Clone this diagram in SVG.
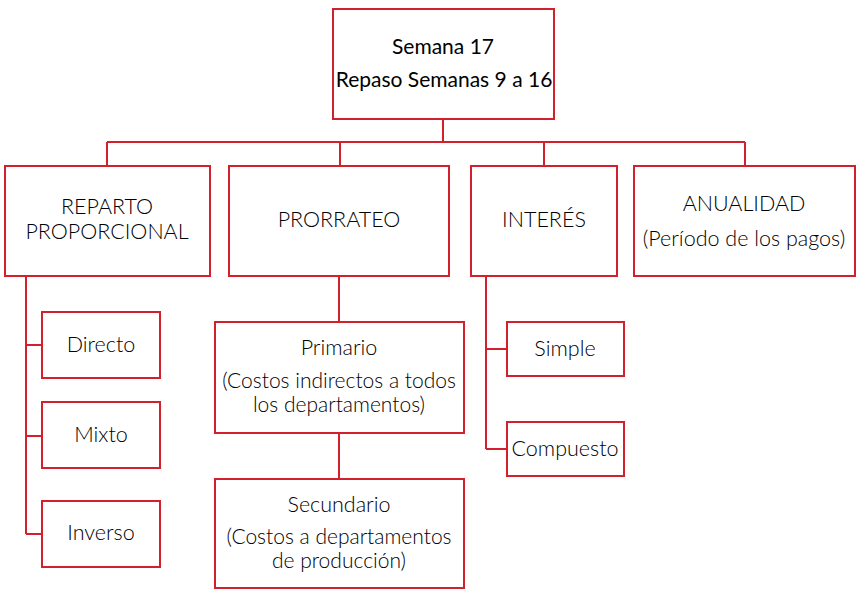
<svg xmlns="http://www.w3.org/2000/svg" width="861" height="596" viewBox="0 0 861 596">
<style>
.box{fill:#fff;stroke:#d4202c;stroke-width:2}
.ln{fill:none;stroke:#d4202c;stroke-width:2}
text{font-family:"Lato","Open Sans",sans-serif;font-size:21.5px;font-weight:300;fill:#000;text-anchor:middle}
.top{font-size:21px;font-weight:400}
.tight{font-size:21px}
</style>
<rect width="861" height="596" fill="#fff"/>
<g id="connectors">
<path class="ln" d="M443,119V142M107,142H745M107,142V166M340,142V166M544,142V166M745,142V166"/>
<path class="ln" d="M26,276V534M26,345H42M26,436H42M26,534H42"/>
<path class="ln" d="M339,276V322M339,433V479"/>
<path class="ln" d="M486,276V449M486,349H507M486,449H507"/>
</g>
<g id="n-top"><rect class="box" x="333" y="9" width="221" height="110"/><text class="top" x="443" y="54">Semana 17</text><text class="top" x="444" y="87">Repaso Semanas 9 a 16</text></g>
<g id="n-reparto"><rect class="box" x="5" y="166" width="205" height="110"/><text x="107" y="214">REPARTO</text><text x="107" y="239">PROPORCIONAL</text></g>
<g id="n-prorrateo"><rect class="box" x="229" y="166" width="220" height="110"/><text x="339" y="227">PRORRATEO</text></g>
<g id="n-interes"><rect class="box" x="471" y="166" width="146" height="110"/><text x="544" y="227">INTERÉS</text></g>
<g id="n-anualidad"><rect class="box" x="634" y="166" width="221" height="110"/><text x="744" y="211">ANUALIDAD</text><text x="744" y="246">(Período de los pagos)</text></g>
<g id="n-directo"><rect class="box" x="42" y="312" width="118" height="66"/><text x="101" y="352">Directo</text></g>
<g id="n-mixto"><rect class="box" x="42" y="402" width="118" height="66"/><text x="101" y="442">Mixto</text></g>
<g id="n-inverso"><rect class="box" x="42" y="501" width="118" height="66"/><text x="101" y="540">Inverso</text></g>
<g id="n-primario"><rect class="box" x="215" y="322" width="249" height="111"/><text x="339" y="355">Primario</text><text class="tight" x="339" y="388">(Costos indirectos a todos</text><text class="tight" x="339" y="412">los departamentos)</text></g>
<g id="n-secundario"><rect class="box" x="215" y="479" width="249" height="109"/><text x="339" y="512">Secundario</text><text class="tight" x="339" y="544">(Costos a departamentos</text><text class="tight" x="339" y="568">de producción)</text></g>
<g id="n-simple"><rect class="box" x="507" y="322" width="117" height="54"/><text x="565" y="356">Simple</text></g>
<g id="n-compuesto"><rect class="box" x="507" y="422" width="117" height="54"/><text x="565" y="456">Compuesto</text></g>
</svg>
